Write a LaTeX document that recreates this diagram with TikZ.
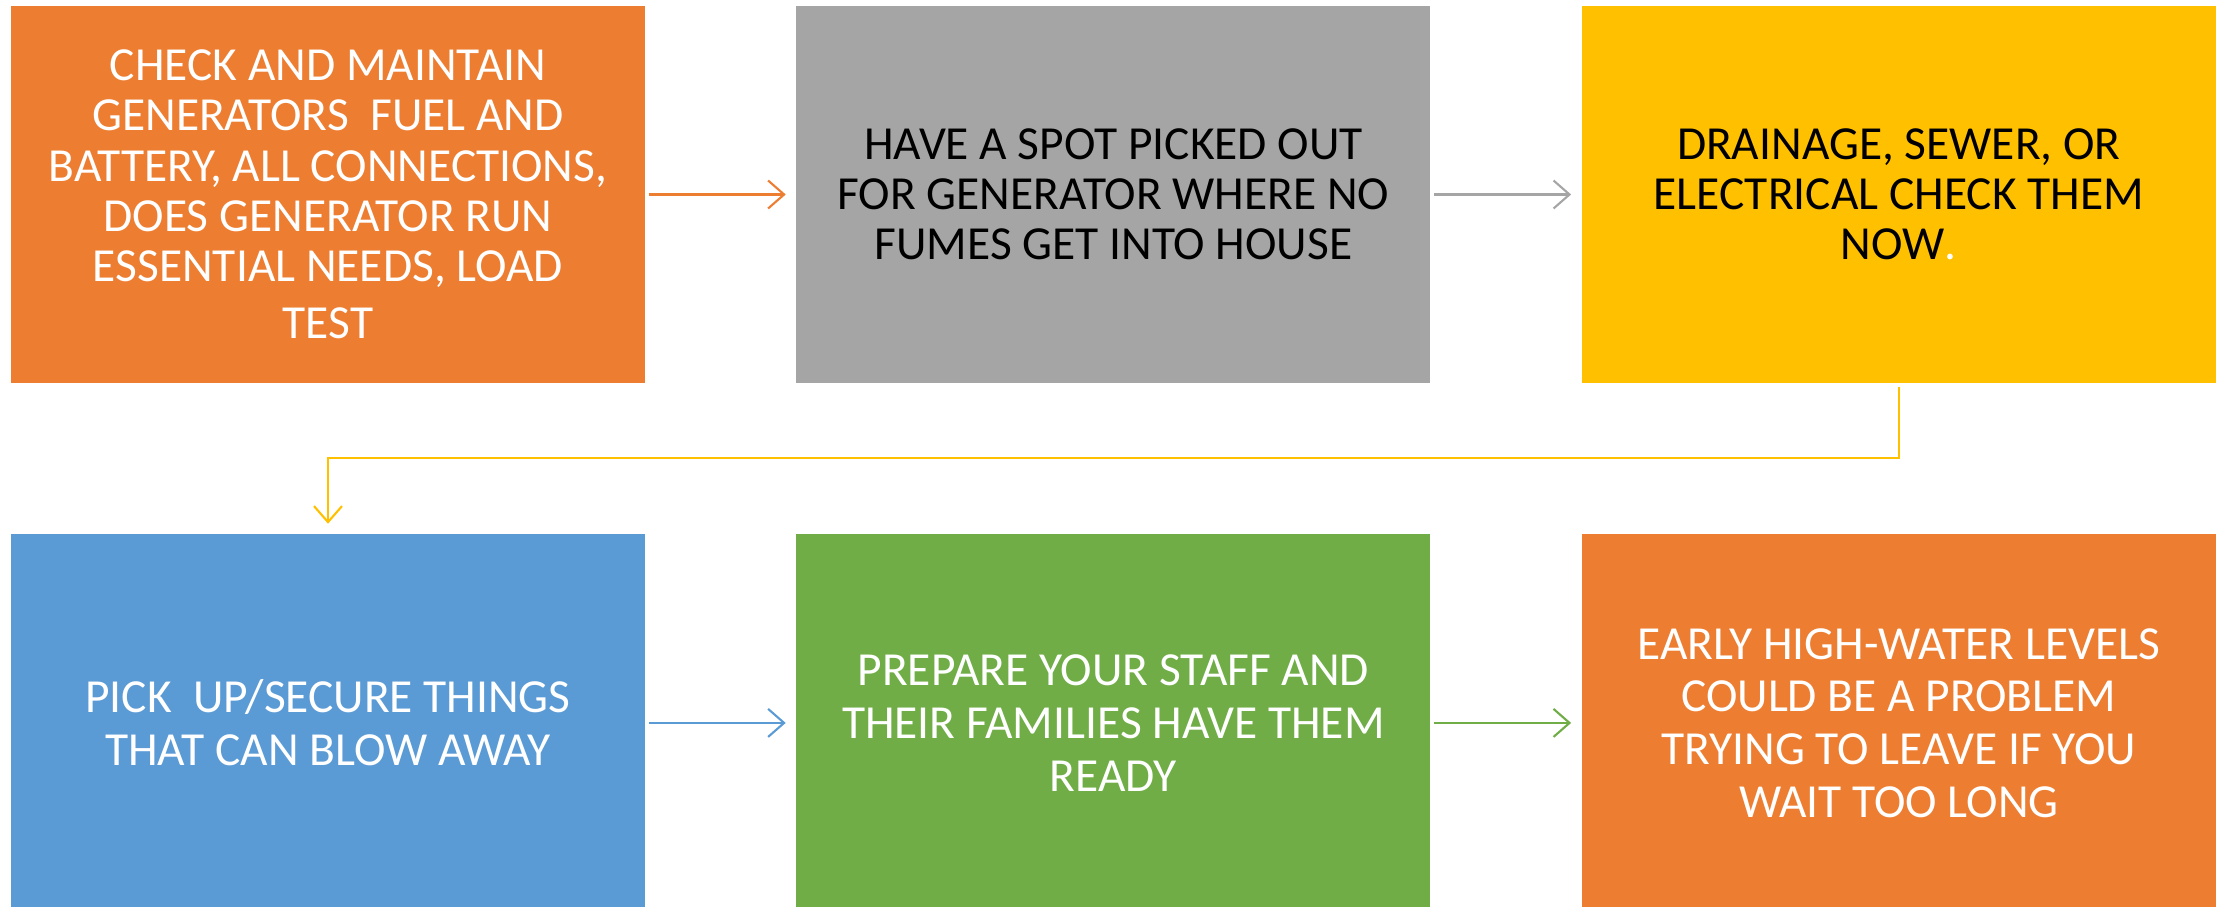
\documentclass[tikz,border=0pt]{standalone}
\usepackage{fontspec}
\setmainfont{Carlito}
\usetikzlibrary{arrows.meta, positioning}

\definecolor{offorange}{HTML}{ED7D31}
\definecolor{offgray}{HTML}{A5A5A5}
\definecolor{offgold}{HTML}{FFC000}
\definecolor{offblue}{HTML}{5B9BD5}
\definecolor{offgreen}{HTML}{70AD47}

\begin{document}
\begin{tikzpicture}[
        font=\fontsize{13.5}{14.3}\selectfont,
        stepbox/.style={minimum width=6.34cm, minimum height=3.77cm, inner sep=0pt, align=center},
        lowrow/.style={font=\fontsize{13.5}{15}\selectfont},
        link/.style={line width=0.6pt, -{Straight Barb[length=1.6mm, width=2.8mm]}, shorten >=1mm, shorten <=0.3mm},
        node distance=1.5cm and 1.5cm
        ]
        \useasboundingbox (0,0) rectangle (22.18,-9.07);
        % top row
        \node[stepbox, fill=offorange, text=white] (maintain) at (3.28,-1.945)
            {CHECK AND MAINTAIN\\GENERATORS\ \ FUEL AND\\BATTERY, ALL CONNECTIONS,\\DOES GENERATOR RUN\\ESSENTIAL NEEDS, LOAD\\[2pt]TEST};
        \node[stepbox, fill=offgray, right=of maintain] (spot)
            {HAVE A SPOT PICKED OUT\\FOR GENERATOR WHERE NO\\FUMES GET INTO HOUSE};
        \node[stepbox, fill=offgold, right=of spot] (drain)
            {DRAINAGE, SEWER, OR\\ELECTRICAL CHECK THEM\\NOW{\color{white}.}};
        % bottom row
        \node[stepbox, lowrow, fill=offblue, text=white, below=of maintain] (secure)
            {PICK\ \ UP/SECURE THINGS\\THAT CAN BLOW AWAY};
        \node[stepbox, lowrow, fill=offgreen, text=white, right=of secure] (staff)
            {PREPARE YOUR STAFF AND\\THEIR FAMILIES HAVE THEM\\READY};
        \node[stepbox, lowrow, fill=offorange, text=white, right=of staff] (water)
            {EARLY HIGH-WATER LEVELS\\COULD BE A PROBLEM\\TRYING TO LEAVE IF YOU\\WAIT TOO LONG};
        % connectors
        \draw[link, offorange] (maintain) -- (spot);
        \draw[link, offgray] (spot) -- (drain);
        \draw[link, offgold] (drain.south) -- ++(0,-0.74) -| (secure.north);
        \draw[link, offblue] (secure) -- (staff);
        \draw[link, offgreen] (staff) -- (water);
    \end{tikzpicture}
\end{document}
